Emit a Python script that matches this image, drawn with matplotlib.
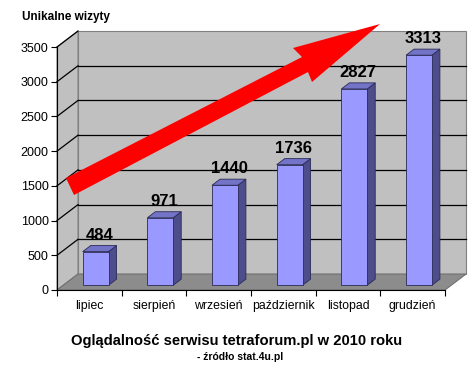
import matplotlib.pyplot as plt
from matplotlib.patches import Polygon

months = ["lipiec", "sierpień", "wrzesień", "październik", "listopad", "grudzień"]
visits = [484, 971, 1440, 1736, 2827, 3313]
y_ticks = [0, 500, 1000, 1500, 2000, 2500, 3000, 3500]

plt.rcParams['font.family'] = ['Liberation Sans', 'DejaVu Sans']

W, H = 474, 377
fig = plt.figure(figsize=(W / 100, H / 100), dpi=100)
ax = fig.add_axes([57 / W, 87 / H, 388 / W, 243 / H])
n = len(months)
ymax = y_ticks[-1]
ax.set_xlim(0, n)
ax.set_ylim(0, ymax)
ax.patch.set_visible(False)

# depth of the fake 3d box (data units)
dx, dy = 0.325, 230
wall = "#c0c0c0"
floor = "#8c8c8c"

ax.add_patch(Polygon([(dx, dy), (n + dx, dy), (n + dx, ymax + dy), (dx, ymax + dy)],
                     closed=True, fc=wall, ec="#808080", lw=0.8, clip_on=False, zorder=1))
ax.add_patch(Polygon([(0, 0), (dx, dy), (dx, ymax + dy), (0, ymax)],
                     closed=True, fc=wall, ec="#808080", lw=0.8, clip_on=False, zorder=1))
ax.add_patch(Polygon([(0, 0), (n, 0), (n + dx, dy), (dx, dy)],
                     closed=True, fc=floor, ec="#707070", lw=0.8, clip_on=False, zorder=2))

# gridlines on back wall + side wall
for v in y_ticks[1:-1]:
    ax.plot([dx, n + dx], [v + dy, v + dy], color="black", lw=0.9, clip_on=False, zorder=2)
for v in y_ticks[1:]:
    ax.plot([0, dx], [v, v + dy], color="black", lw=0.9, clip_on=False, zorder=2)

# bars
w = 0.40   # width of front face
f = 0.30   # where the bar starts in depth
d = 0.38   # bar depth
for i, v in enumerate(visits):
    x0 = i + 0.5 - w / 2 + f * dx
    y0 = f * dy
    ex, ey = d * dx, d * dy
    front = [(x0, y0), (x0 + w, y0), (x0 + w, y0 + v), (x0, y0 + v)]
    side = [(x0 + w, y0), (x0 + w + ex, y0 + ey), (x0 + w + ex, y0 + v + ey), (x0 + w, y0 + v)]
    top = [(x0, y0 + v), (x0 + w, y0 + v), (x0 + w + ex, y0 + v + ey), (x0 + ex, y0 + v + ey)]
    for pts, c in [(side, "#4d4d8c"), (top, "#7373c8"), (front, "#9999ff")]:
        ax.add_patch(Polygon(pts, closed=True, fc=c, ec="#2a2a55", lw=0.6, clip_on=False, zorder=3))
    ax.annotate(str(v), (x0 + w / 2 + ex / 2, y0 + v + ey), xytext=(0, 2),
                textcoords="offset points", ha="center", va="bottom",
                fontsize=12, fontweight="bold", zorder=4)

# axes
for s in ["top", "right"]:
    ax.spines[s].set_visible(False)
ax.spines["left"].set_zorder(5)
ax.spines["bottom"].set_zorder(5)
ax.set_yticks(y_ticks)
ax.tick_params(axis="y", direction="out", length=4, labelsize=9, pad=2)
ax.set_xticks(range(n + 1))
ax.set_xticklabels([])
ax.set_xticks([i + 0.5 for i in range(n)], minor=True)
ax.set_xticklabels(months, minor=True)
ax.tick_params(axis="x", which="major", direction="out", length=4)
ax.tick_params(axis="x", which="minor", length=0, labelsize=8.8, pad=7)

# big red arrow (pixel positions from top-left)
arrow_px = [(66, 178), (302, 57), (293, 48), (380, 24), (312, 82), (308, 72), (74, 195)]
arrow = Polygon([(x / W, 1 - y / H) for x, y in arrow_px], closed=True,
                fc="#ff0000", ec="none", transform=fig.transFigure, zorder=10)
fig.add_artist(arrow)

fig.text(22 / W, 1 - 17 / H, "Unikalne wizyty", ha="left", va="center",
         fontsize=8.5, fontweight="bold")
fig.text(237 / W, 1 - 341 / H, "Oglądalność serwisu tetraforum.pl w 2010 roku",
         ha="center", va="center", fontsize=10.6, fontweight="bold")
fig.text(240 / W, 1 - 357 / H, "- źródło stat.4u.pl", ha="center", va="center",
         fontsize=7.5, fontweight="bold")

fig.savefig("out.png", dpi=100)
